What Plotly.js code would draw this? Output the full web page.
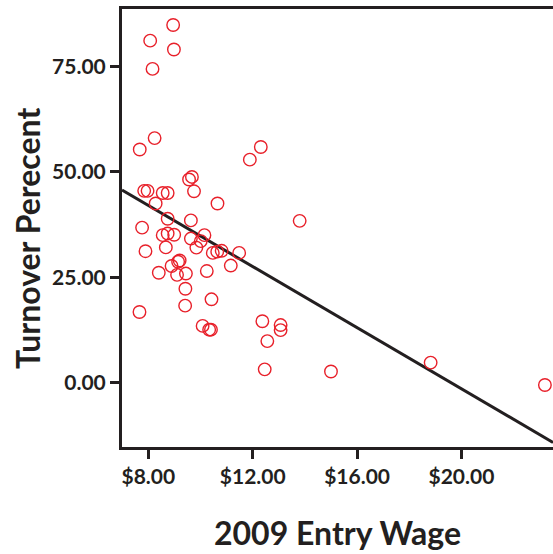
<!DOCTYPE html>
<html>
<head>
<meta charset="utf-8">
<script src="https://cdn.plot.ly/plotly-3.0.1.min.js"></script>
<style>html,body{margin:0;padding:0;background:#fff;}#chart{width:553px;height:554px;}</style>
</head>
<body>
<div id="chart"></div>
<script>
// Entry wage (dollars) for each observation
const entryWage = [
  8.95, 8.07, 8.98, 8.16, 8.24, 7.67, 11.89, 12.31, 9.56, 9.67,
  7.84, 7.97, 8.55, 8.74, 9.75, 8.28, 10.65, 13.80, 8.74, 9.63,
  7.76, 8.55, 8.74, 8.99, 9.63, 10.15, 10.01, 9.84, 8.67, 7.89,
  10.47, 10.64, 10.81, 11.48, 9.14, 9.20, 8.89, 11.16, 8.40, 9.10,
  9.44, 10.24, 9.42, 10.42, 9.41, 7.66, 10.08, 10.33, 10.40, 12.37,
  13.07, 13.07, 12.56, 12.46, 15.00, 18.82, 23.20
];
// Turnover percent for each observation
const turnoverPct = [
  84.8, 81.1, 79.0, 74.4, 58.0, 55.3, 52.9, 55.9, 48.2, 48.8,
  45.5, 45.5, 45.0, 45.0, 45.4, 42.5, 42.5, 38.4, 38.9, 38.5,
  36.8, 35.0, 35.4, 35.1, 34.2, 35.0, 33.6, 32.05, 32.1, 31.2,
  30.8, 31.1, 31.3, 30.8, 28.7, 29.0, 27.7, 27.8, 26.1, 25.6,
  25.9, 26.5, 22.3, 19.8, 18.3, 16.8, 13.5, 12.6, 12.6, 14.6,
  13.7, 12.5, 9.9, 3.2, 2.7, 4.8, -0.5
];
// Fitted linear regression: turnover = intercept + slope * wage
const fitIntercept = 71.0;
const fitSlope = -3.62;

const xTickVals = [8, 12, 16, 20];
const xTickText = ['$8.00', '$12.00', '$16.00', '$20.00'];
const yTickVals = [0, 25, 50, 75];
const yTickText = ['0.00', '25.00', '50.00', '75.00'];

const xRange = [6.99, 23.51];
const yRange = [-15.2, 88.6];

const fitX = xRange.slice();
const fitY = fitX.map(v => fitIntercept + fitSlope * v);

const ink = '#231f20';
const font = 'Lato, sans-serif';

const traces = [
  {
    x: fitX, y: fitY, type: 'scatter', mode: 'lines',
    line: {color: ink, width: 3}, hoverinfo: 'skip', cliponaxis: true
  },
  {
    x: entryWage, y: turnoverPct, type: 'scatter', mode: 'markers',
    marker: {symbol: 'circle-open', size: 12.5, color: '#e8202a', line: {width: 1.4, color: '#e8202a'}},
    cliponaxis: false
  }
];

const layout = {
  width: 553, height: 554,
  margin: {l: 122, r: 0, t: 9, b: 107},
  paper_bgcolor: '#fff', plot_bgcolor: '#fff',
  showlegend: false,
  font: {family: font, color: ink},
  xaxis: {
    range: xRange, showgrid: false, zeroline: false,
    showline: true, linecolor: ink, linewidth: 3, mirror: true,
    ticks: 'outside', ticklen: 9, tickwidth: 3, tickcolor: ink,
    tickvals: xTickVals, ticktext: xTickText,
    tickfont: {family: font, size: 21, color: ink, weight: 'bold'},
    title: {text: '2009 Entry Wage', font: {family: font, size: 32, color: ink, weight: 'bold'}, standoff: 36}
  },
  yaxis: {
    range: yRange, showgrid: false, zeroline: false,
    showline: true, linecolor: ink, linewidth: 3,
    ticks: 'outside', ticklen: 9, tickwidth: 3, tickcolor: ink,
    tickvals: yTickVals, ticktext: yTickText,
    tickfont: {family: font, size: 21, color: ink, weight: 'bold'}
  },
  annotations: [{
    text: 'Turnover Perecent', textangle: -90,
    xref: 'paper', yref: 'paper', x: -0.218, y: 0.475,
    xanchor: 'center', yanchor: 'middle', showarrow: false,
    font: {family: font, size: 32, color: ink, weight: 'bold'}
  }]
};

Plotly.newPlot('chart', traces, layout, {displayModeBar: false, staticPlot: true});
</script>
</body>
</html>
